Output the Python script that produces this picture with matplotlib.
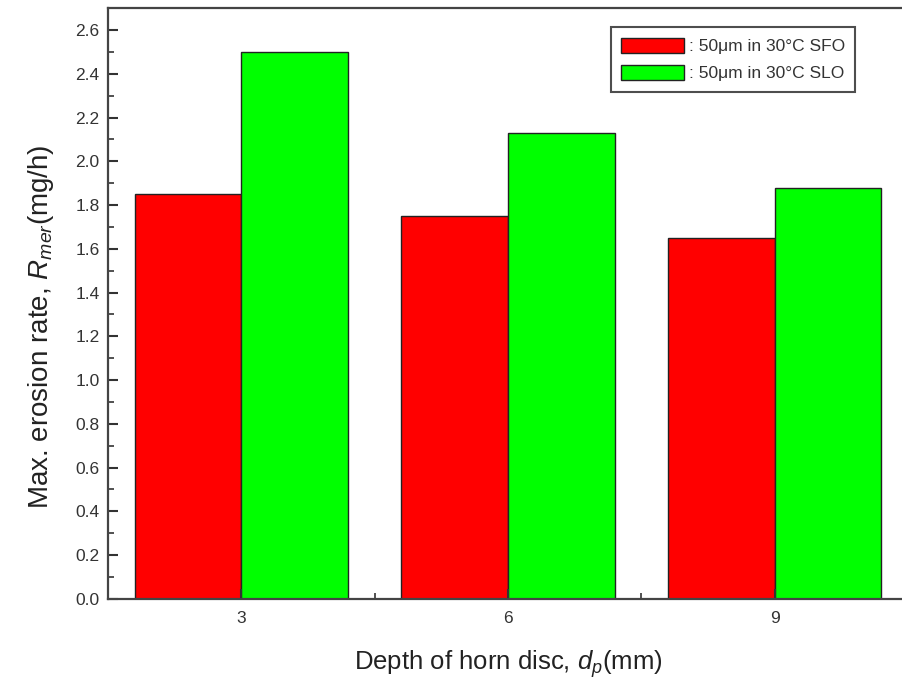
import numpy as np
import matplotlib
matplotlib.use('Agg')
import matplotlib.pyplot as plt
from matplotlib.ticker import MultipleLocator, FixedLocator

plt.rcParams['font.family'] = ['Liberation Sans', 'DejaVu Sans']
plt.rcParams['mathtext.fontset'] = 'custom'
plt.rcParams['mathtext.rm'] = 'Liberation Sans'
plt.rcParams['mathtext.it'] = 'Liberation Sans:italic'

# Data
depths = ['3', '6', '9']
sfo = [1.85, 1.75, 1.65]
slo = [2.50, 2.13, 1.88]
labels = [': 50\u03bcm in 30\u00b0C SFO', ': 50\u03bcm in 30\u00b0C SLO']

fig = plt.figure(figsize=(9.03, 6.86), dpi=100)
ax = fig.add_axes([0.1196, 0.127, 0.886, 0.861])

x = np.arange(len(depths))
w = 0.4
ax.bar(x - w / 2, sfo, w, color='#ff0000', edgecolor='#222222', linewidth=1, label=labels[0])
ax.bar(x + w / 2, slo, w, color='#00ff00', edgecolor='#222222', linewidth=1, label=labels[1])

ax.set_xlim(-0.5, 2.5)
ax.set_ylim(0, 2.7)
ax.set_xticks(x)
ax.set_xticklabels(depths)
ax.xaxis.set_minor_locator(FixedLocator([-0.5, 0.5, 1.5, 2.5]))
ax.yaxis.set_minor_locator(MultipleLocator(0.1))
ax.set_yticks(np.arange(0, 2.61, 0.2))

ax.tick_params(which='both', direction='in', colors='#333333', labelsize=12.5)
ax.tick_params(which='major', length=7, width=1.5)
ax.tick_params(which='minor', length=4, width=1.2)
ax.tick_params(axis='x', pad=9)
ax.tick_params(axis='y', pad=6)
for s in ax.spines.values():
    s.set_color('#444444')
    s.set_linewidth(1.6)
ax.spines['right'].set_visible(False)

ax.set_ylabel('Max. erosion rate, $R_{mer}$(mg/h)', fontsize=20, color='#222222')
ax.yaxis.set_label_coords(-0.065, 0.46)
ax.set_xlabel('Depth of horn disc, $d_p$(mm)', fontsize=18.5, color='#222222', labelpad=16)

leg = ax.legend(loc='upper right', bbox_to_anchor=(0.934, 0.968), fontsize=12.5,
                frameon=True, fancybox=False, edgecolor='#222222',
                handlelength=3.6, handleheight=1.0, handletextpad=0.3,
                borderpad=0.6, labelspacing=0.6, borderaxespad=0)
leg.get_frame().set_linewidth(1.5)
for t in leg.get_texts():
    t.set_color('#333333')

fig.savefig('out.png', dpi=100)
